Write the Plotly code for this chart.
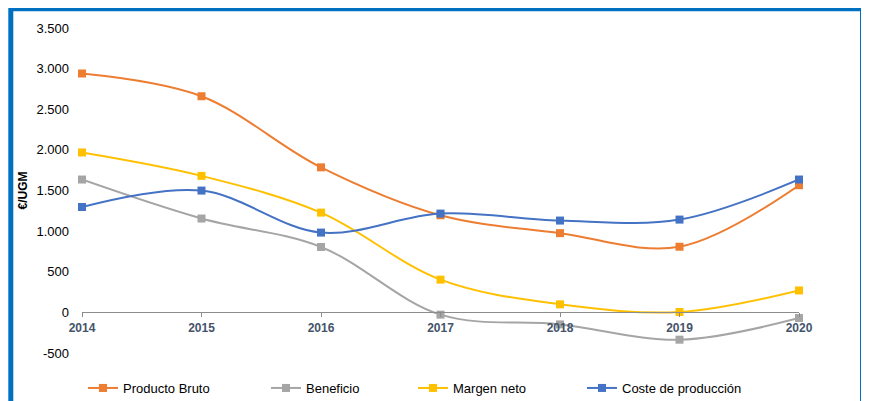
import plotly.graph_objects as go

years = [2014, 2015, 2016, 2017, 2018, 2019, 2020]
year_labels = ["2014", "2015", "2016", "2017", "2018", "2019", "2020"]

producto_bruto = [2940, 2660, 1785, 1195, 975, 808, 1565]
beneficio = [1635, 1155, 805, -28, -148, -336, -70]
margen_neto = [1968, 1680, 1228, 403, 99, 5, 270]
coste_produccion = [1297, 1499, 982, 1216, 1130, 1142, 1635]

y_tickvals = [-500, 0, 500, 1000, 1500, 2000, 2500, 3000, 3500]
y_ticktext = ["-500", "0", "500", "1.000", "1.500", "2.000", "2.500", "3.000", "3.500"]

series = [
    ("Producto Bruto", producto_bruto, "#ED7D31", "legend"),
    ("Beneficio", beneficio, "#A5A5A5", "legend2"),
    ("Margen neto", margen_neto, "#FFC000", "legend3"),
    ("Coste de producción", coste_produccion, "#4472C4", "legend4"),
]

fig = go.Figure()
for name, vals, color, lg in series:
    fig.add_trace(go.Scatter(
        x=years, y=vals, name=name, mode="lines+markers",
        line=dict(color=color, width=2, shape="spline", smoothing=1),
        marker=dict(symbol="square", size=8, color=color),
        cliponaxis=False, legend=lg,
    ))

# page body has an 8px default margin, so figure is 8px smaller and offset
OFF = 8
W, H = 869 - OFF, 401 - OFF
L, R, T, B = 82 - OFF, 70, 28 - OFF, 48
pw = W - L - R
ph = H - T - B

def px_to_paper_x(px):
    return (px - OFF - L) / pw

def px_to_paper_y(py):
    return (H - B - (py - OFF)) / ph

legend_font = dict(family="Liberation Sans, Arial, sans-serif", size=13, color="#000000")
sym_starts = [91, 274, 421, 590]
legends = {}
for i, s in enumerate(sym_starts):
    key = "legend" if i == 0 else f"legend{i+1}"
    legends[key] = dict(
        x=px_to_paper_x(s - 8), y=px_to_paper_y(388), xanchor="left", yanchor="middle",
        orientation="h", font=legend_font, bgcolor="rgba(0,0,0,0)", borderwidth=0,
    )

fig.update_layout(
    width=W, height=H,
    margin=dict(l=L, r=R, t=T, b=B, pad=0, autoexpand=False),
    paper_bgcolor="white", plot_bgcolor="white",
    showlegend=True,
    xaxis=dict(
        range=[2014, 2020], tickvals=years, ticktext=year_labels,
        showgrid=False, zeroline=False, showline=True, linecolor="#8C8C8C", linewidth=1,
        ticks="outside", ticklen=4, tickcolor="#8C8C8C",
        anchor="free", position=500 / 4000,
        tickfont=dict(family="Liberation Sans Narrow, Arial Narrow, Liberation Sans, sans-serif",
                      size=12, color="#44546A", weight="bold"),
    ),
    yaxis=dict(
        range=[-500, 3500], tickvals=y_tickvals, ticktext=y_ticktext,
        showgrid=False, zeroline=False, showline=False, ticks="",
        ticklabelstandoff=12,
        tickfont=dict(family="Liberation Sans, Arial, sans-serif", size=13, color="#000000"),
        title=dict(text="<b>€/UGM</b>", standoff=6,
                   font=dict(family="Liberation Sans, Arial, sans-serif", size=12, color="#000000")),
    ),
    shapes=[dict(
        type="rect", xref="paper", yref="paper",
        x0=px_to_paper_x(10.8), x1=px_to_paper_x(862.5),
        y0=px_to_paper_y(430), y1=px_to_paper_y(8.7),
        line=dict(color="#0070C0", width=5), fillcolor="rgba(0,0,0,0)", layer="below",
    )],
    **legends,
)

fig.write_html("out.html")
